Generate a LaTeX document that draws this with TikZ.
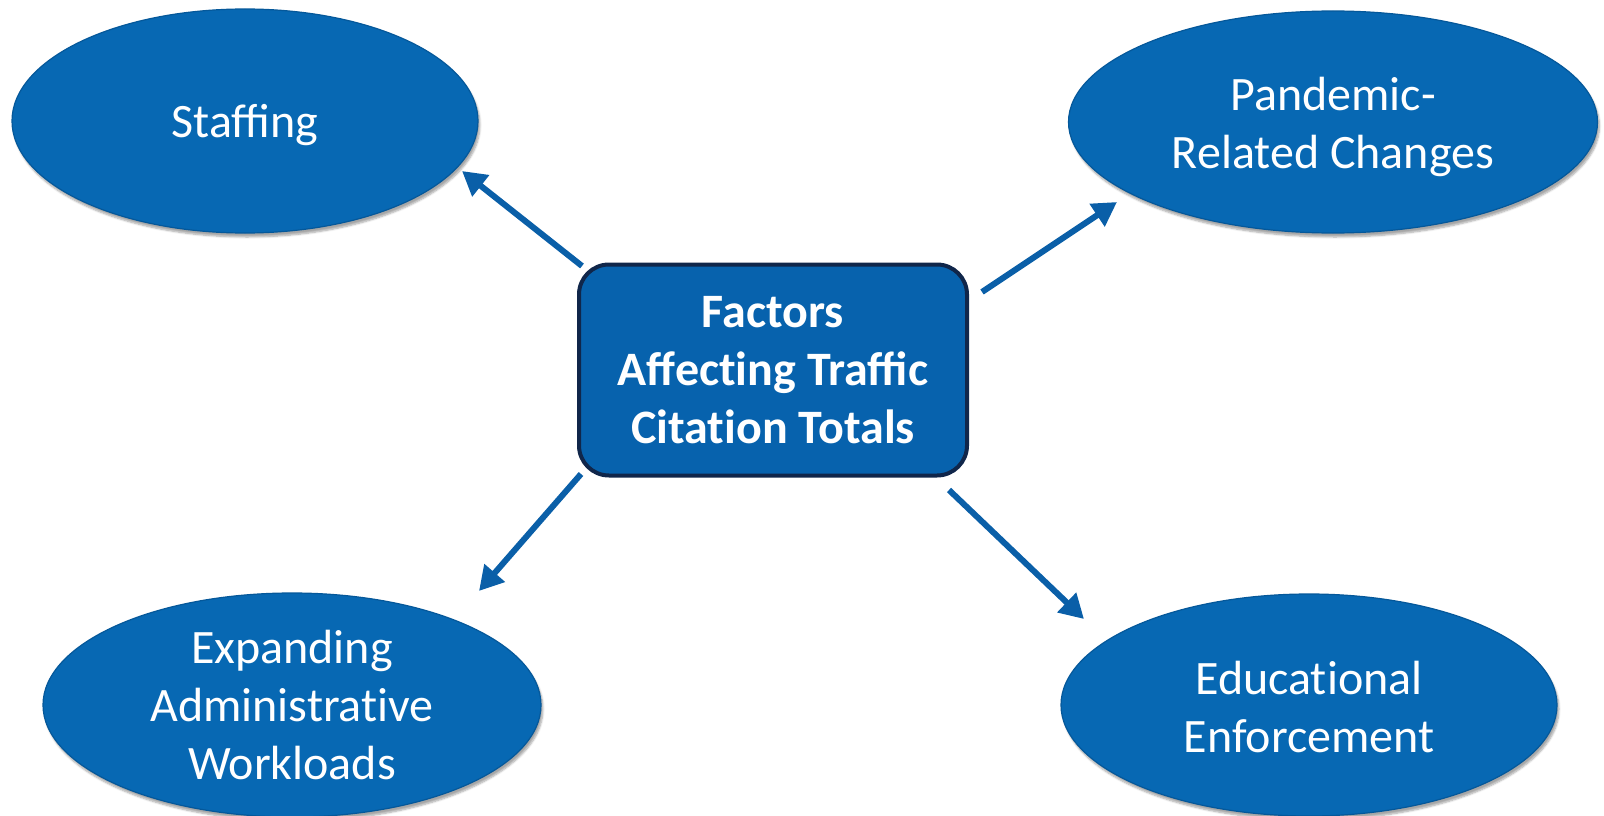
\documentclass[tikz,border=0pt]{standalone}
\usepackage{fontspec}
\setmainfont{Carlito}
\usetikzlibrary{shapes.geometric,arrows.meta,shadows.blur}
\definecolor{ellfill}{HTML}{0768B3}
\definecolor{elledge}{HTML}{05589A}
\definecolor{boxfill}{HTML}{0762AD}
\definecolor{boxedge}{HTML}{10264A}
\definecolor{arrowcol}{HTML}{0A5FA8}
\tikzset{
  oval/.style={ellipse, fill=ellfill, draw=elledge, line width=1.2pt, inner sep=0pt,
    blur shadow={shadow xshift=2pt, shadow yshift=-4pt, shadow blur steps=6, shadow opacity=35}},
  ovaltext/.style={inner sep=0pt, text=white, align=center, font=\fontsize{48}{58}\selectfont},
  centerbox/.style={rectangle, rounded corners=30pt, fill=boxfill, draw=boxedge, line width=4pt,
    inner sep=0pt, text=white, align=center, font=\fontsize{48}{58}\selectfont\bfseries,
    minimum width=388pt, minimum height=211pt},
  link/.style={draw=arrowcol, line width=6pt, -{Triangle[length=24pt,width=26pt]}}
}
\begin{document}
\begin{tikzpicture}[x=1pt,y=-1pt]
\useasboundingbox (0,0) rectangle (1604,816);
\node[oval, minimum width=466pt, minimum height=224pt] (staff) at (245,121) {};
\node[ovaltext, yshift=-4pt] (staffT) at (staff.center) {Staffing};
\node[oval, minimum width=529pt, minimum height=222pt] (pand) at (1333,122) {};
\node[ovaltext, yshift=-5pt] (pandT) at (pand.center) {Pandemic-\\Related Changes};
\node[oval, minimum width=498pt, minimum height=224pt] (expand) at (292,705) {};
\node[ovaltext, yshift=0pt] (expandT) at (expand.center) {Expanding\\Administrat\kern0pt ive\\Workloads};
\node[oval, minimum width=496pt, minimum height=222pt] (edu) at (1309,705) {};
\node[ovaltext, yshift=-2pt] (eduT) at (edu.center) {Educat\kern0pt ional\\Enforcement};
\node[centerbox] (ctr) at (773,370) {Factors\\Affect\kern0pt ing Traffic\\Citat\kern0pt ion Totals};
\coordinate (t1) at (582,266);
\coordinate (h1) at (462,171);
\coordinate (t2) at (982,292);
\coordinate (h2) at (1117,202);
\coordinate (t3) at (581,474);
\coordinate (h3) at (479,591);
\coordinate (t4) at (949,490);
\coordinate (h4) at (1084,619);
\draw[link] (t1) -- (h1);
\draw[link] (t2) -- (h2);
\draw[link] (t3) -- (h3);
\draw[link] (t4) -- (h4);
\end{tikzpicture}
\end{document}
